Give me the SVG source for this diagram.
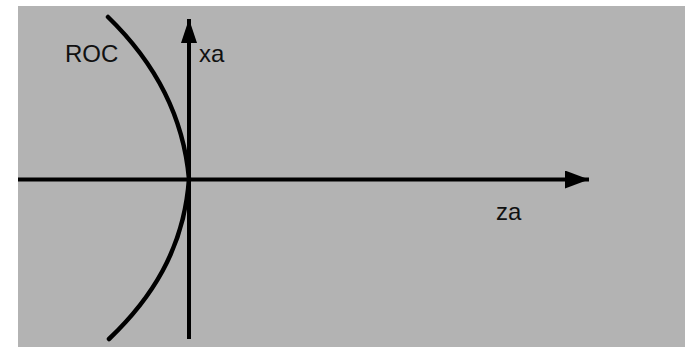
<svg xmlns="http://www.w3.org/2000/svg" width="691" height="347" viewBox="0 0 691 347">
<style>
.ax{stroke:#000;stroke-width:4;fill:none}
.lbl{font-family:"Liberation Sans",Arial,sans-serif;font-size:24px;fill:#111}
</style>
<defs>
<marker id="ah" markerUnits="userSpaceOnUse" markerWidth="26" markerHeight="20" refX="24" refY="9" orient="auto">
<path d="M0,0 L24,9 L0,18 Z" fill="#000"/>
</marker>
<marker id="av" markerUnits="userSpaceOnUse" markerWidth="26" markerHeight="20" refX="24" refY="8" orient="auto">
<path d="M0,0 L24,8 L0,16 Z" fill="#000"/>
</marker>
</defs>
<rect x="0" y="0" width="691" height="347" fill="#fff"/>
<rect x="18" y="6" width="667" height="341" fill="#b3b3b3"/>
<g id="connectors">
<line class="ax" x1="18" y1="179.5" x2="589" y2="179.5" marker-end="url(#ah)"/>
<line class="ax" x1="189" y1="339" x2="189" y2="19" stroke-width="3.5" marker-end="url(#av)"/>
</g>
<g id="roc">
<path d="M108,17 C140,48 182,100 189,179 C184,250 150,300 109,339" fill="none" stroke="#000" stroke-width="4.5" stroke-linecap="round"/>
<text class="lbl" x="65" y="62">ROC</text>
</g>
<g id="xa"><text class="lbl" x="199" y="62">xa</text></g>
<g id="za"><text class="lbl" x="496" y="220">za</text></g>
</svg>
